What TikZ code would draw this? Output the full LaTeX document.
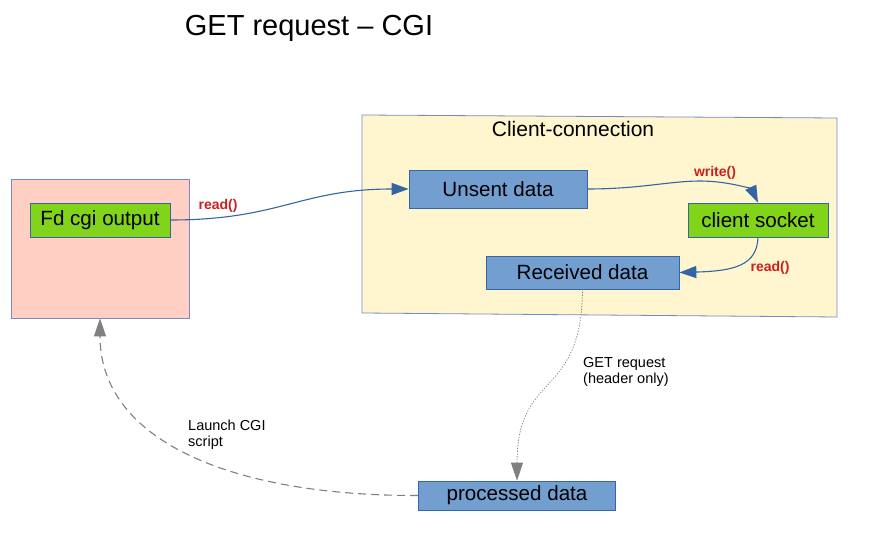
\documentclass[tikz,border=0pt]{standalone}
\usepackage{fontspec}
\setmainfont{Liberation Sans}
\usetikzlibrary{arrows.meta}
\definecolor{pinkfill}{RGB}{255,207,196}
\definecolor{yellowfill}{RGB}{255,245,206}
\definecolor{bluefill}{RGB}{114,159,207}
\definecolor{greenfill}{RGB}{129,212,26}
\definecolor{boxline}{RGB}{52,101,164}
\definecolor{contline}{RGB}{114,140,200}
\definecolor{redtext}{RGB}{201,33,30}
\definecolor{arrowblue}{RGB}{52,101,164}
\definecolor{greyarrow}{RGB}{128,128,128}
\tikzset{
  box/.style={draw=boxline, line width=0.7pt, inner sep=0pt, anchor=center,
    font=\fontsize{20.6}{24}\selectfont},
  bluebox/.style={box, fill=bluefill},
  greenbox/.style={box, fill=greenfill},
  container/.style={draw=contline, line width=0.8pt, inner sep=0pt},
  redlabel/.style={text=redtext, font=\bfseries\fontsize{14}{16}\selectfont, inner sep=0pt},
  notelabel/.style={font=\fontsize{14.5}{16}\selectfont, align=left, inner sep=0pt, anchor=north west},
  bluearrow/.style={draw=arrowblue, line width=1.1pt, -{Triangle[length=17pt,width=12pt]}},
  greyflow/.style={draw=greyarrow, line width=1.1pt, -{Triangle[length=18pt,width=12pt]}},
}
\begin{document}
\begin{tikzpicture}[x=1pt,y=-1pt]
\useasboundingbox (0,0) rectangle (869,534);
% title
\node[font=\fontsize{29}{34}\selectfont, inner sep=0pt] (title) at (309,28) {GET request – CGI};
% containers
\node[container, fill=pinkfill, minimum width=178pt, minimum height=139pt] (cgi) at (100,248.5) {};
\draw[container, fill=yellowfill] (362,115) -- (837,118) -- (837,317) -- (362,313) -- cycle;
\node[font=\fontsize{21}{24}\selectfont, inner sep=0pt] (cc) at (573,129) {Client-connection};
% nodes
\node[greenbox, minimum width=140pt, minimum height=34pt] (fd) at (100,220) {Fd cgi output};
\node[bluebox, minimum width=178pt, minimum height=38pt] (unsent) at (498,189) {Unsent data};
\node[greenbox, minimum width=140pt, minimum height=34pt] (sock) at (758,220) {client socket};
\node[bluebox, minimum width=193pt, minimum height=33pt] (recv) at (582.5,272.5) {Received data};
\node[bluebox, minimum width=197pt, minimum height=29pt] (proc) at (517,495.5) {processed data};
% labels
\node[redlabel] (r1) at (218,206) {read()};
\node[redlabel] (w1) at (715,173) {write()};
\node[redlabel] (r2) at (770,268) {read()};
\node[notelabel] (getreq) at (583,357) {GET request\\(header only)};
\node[notelabel] (launch) at (188,420) {Launch CGI\\script};
% connectors
\draw[bluearrow] (fd.east) .. controls (280,220) and (300,189) .. (unsent.west);
\draw[bluearrow] (unsent.east) .. controls (640,189) and (670,181) .. (700,181)
  .. controls (730,181) and (752,190) .. (sock.north);
\draw[bluearrow] (sock.south) .. controls (757,265) and (735,271) .. (recv.east);
\draw[greyflow, line width=0.8pt, dotted, line cap=round] (recv.south) .. controls (582,400) and (517,370) .. (proc.north);
\draw[greyflow, dash pattern=on 8pt off 5pt] (proc.west) .. controls (230,496) and (100,440) .. (cgi.south);
\end{tikzpicture}
\end{document}
